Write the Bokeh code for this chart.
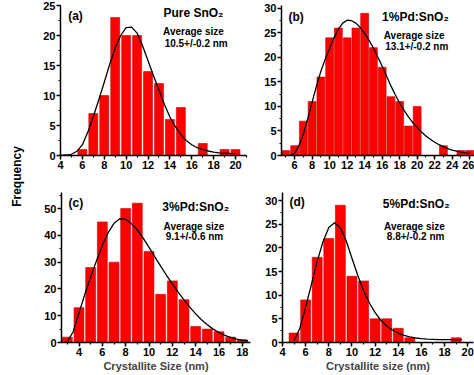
from math import pi
from bokeh.plotting import figure
from bokeh.layouts import row, column
from bokeh.models import Label, SingleIntervalTicker, Range1d, ColumnDataSource
from bokeh.embed import file_html
from bokeh.resources import INLINE

FONT = "Liberation Sans"

# ---------------- data ----------------
# (a) Pure SnO2
a_size = [6, 7, 8, 9, 10, 11, 12, 13, 14, 15, 17, 19, 20]
a_freq = [1, 7, 10, 23, 20, 20, 14, 12, 6, 8, 2, 1, 1]
a_fit_x = [4, 4.5, 5, 5.5, 6, 6.5, 7, 7.5, 8, 8.5, 9, 9.5, 10, 10.5, 11, 11.5, 12, 12.5,
           13, 13.5, 14, 14.5, 15, 15.5, 16, 16.5, 17, 17.5, 18, 18.5, 19, 19.5, 20]
a_fit_y = [0.02, 0.08, 0.2, 0.7, 1.8, 3.9, 6.5, 9.3, 12.2, 15.2, 17.9, 20.0, 21.3, 21.4, 20.4,
           18.3, 15.8, 13.3, 10.9, 8.5, 6.4, 4.8, 3.5, 2.5, 1.8, 1.3, 1.0, 0.75, 0.56, 0.45,
           0.38, 0.33, 0.3]

# (b) 1%Pd:SnO2
b_size = [5, 6, 7, 8, 9, 10, 11, 12, 13, 14, 15, 16, 17, 18, 19, 20, 23, 25, 26]
b_freq = [1, 2, 7, 11, 16, 24, 26, 24, 26, 29, 22, 18, 12, 11, 6, 10, 2, 1, 1]
b_fit_x = [5.5, 6, 6.5, 7, 7.5, 8, 8.5, 9, 9.5, 10, 10.5, 11, 11.5, 12, 12.5, 13, 13.5, 14,
           14.5, 15, 15.5, 16, 16.5, 17, 17.5, 18, 18.5, 19, 19.5, 20, 20.5, 21, 21.5, 22,
           22.5, 23, 23.5, 24, 24.5, 25, 25.5, 26]
b_fit_y = [0.05, 0.5, 2.0, 4.4, 7.5, 10.9, 14.2, 17.2, 19.7, 21.9, 24.0, 25.8, 27.0, 27.6,
           27.5, 27.0, 26.1, 24.9, 23.5, 21.9, 20.1, 18.2, 16.2, 14.2, 12.4, 10.7, 9.2, 7.9,
           6.7, 5.7, 4.8, 4.0, 3.3, 2.7, 2.2, 1.8, 1.4, 1.1, 0.9, 0.7, 0.55, 0.45]

# (c) 3%Pd:SnO2
c_size = [3, 4, 5, 6, 7, 8, 9, 10, 11, 12, 13, 14, 15, 16, 17, 18]
c_freq = [2, 13, 28, 45, 30, 50, 52, 34, 18, 23, 16, 6, 5, 4, 2, 1]
c_fit_x = [3, 3.5, 4, 4.5, 5, 5.5, 6, 6.5, 7, 7.5, 8, 8.5, 9, 9.5, 10, 10.5, 11, 11.5, 12,
           12.5, 13, 13.5, 14, 14.5, 15, 15.5, 16, 16.5, 17, 17.5, 18, 18.5]
c_fit_y = [0.3, 4.0, 11.0, 18.0, 24.5, 30.5, 36.3, 41.0, 44.5, 46.2, 46.0, 44.3, 42.0, 39.0,
           35.5, 32.0, 28.5, 25.1, 21.9, 18.8, 15.9, 13.2, 10.7, 8.5, 6.6, 5.0, 3.7, 2.7,
           1.9, 1.3, 0.9, 0.6]

# (d) 5%Pd:SnO2
d_size = [5, 6, 7, 8, 9, 10, 11, 12, 13, 14, 15, 19]
d_freq = [2, 9, 18, 22, 29, 14, 13, 5, 5, 3, 1, 1]
d_fit_x = [5, 5.5, 6, 6.5, 7, 7.5, 8, 8.5, 9, 9.5, 10, 10.5, 11, 11.5, 12, 12.5, 13, 13.5,
           14, 14.5, 15, 15.5, 16, 16.5, 17, 17.5, 18, 18.5, 19, 19.5]
d_fit_y = [0.4, 3.0, 7.5, 12.3, 17.2, 21.3, 24.3, 25.3, 24.2, 21.5, 17.8, 14.2, 11.0, 8.4,
           6.3, 4.7, 3.5, 2.6, 2.0, 1.5, 1.2, 0.95, 0.8, 0.7, 0.65, 0.62, 0.6, 0.6, 0.6, 0.6]

# ---------------- helpers ----------------
def make_panel(width, height, xr, yr, borders, xint, yint, xlabel=None):
    bl, br, bt, bb = borders
    p = figure(width=width, height=height, x_range=Range1d(*xr), y_range=Range1d(*yr),
               toolbar_location=None, output_backend="svg",
               min_border_left=bl, min_border_right=br, min_border_top=bt,
               min_border_bottom=bb)
    p.outline_line_color = None
    p.grid.visible = False
    p.xaxis.ticker = SingleIntervalTicker(interval=xint, num_minor_ticks=2)
    p.yaxis.ticker = SingleIntervalTicker(interval=yint, num_minor_ticks=2)
    for ax in (p.xaxis[0], p.yaxis[0]):
        ax.axis_line_width = 1.5
        ax.major_tick_line_width = 1.5
        ax.minor_tick_line_width = 1.2
        ax.major_tick_out = 4
        ax.major_tick_in = 0
        ax.minor_tick_out = 2
        ax.minor_tick_in = 0
        ax.major_label_text_font = FONT
        ax.major_label_text_font_style = "bold"
        ax.major_label_text_font_size = "11px"
        ax.major_label_text_color = "black"
        ax.major_label_standoff = 1
    if xlabel:
        p.xaxis.axis_label = xlabel
        p.xaxis.axis_label_text_font = FONT
        p.xaxis.axis_label_text_font_style = "bold"
        p.xaxis.axis_label_text_font_size = "11px"
        p.xaxis.axis_label_standoff = 1
    return p


def add_bars(p, xs, ys, w):
    src = ColumnDataSource(dict(x=xs, top=ys))
    p.vbar(x="x", top="top", bottom=0, width=w, source=src,
           fill_color="#FF0000", line_color="#C40000", line_width=0.6)


def add_fit(p, xs, ys):
    p.line(xs, ys, line_color="black", line_width=1.3, line_join="round")


def add_text(p, x, y, text, size, align="center"):
    p.add_layout(Label(x=x, y=y, text=text, text_font=FONT, text_font_style="bold",
                       text_font_size=size, text_align=align, text_baseline="middle",
                       text_color="black"))


# ---------------- panels ----------------
pa = make_panel(222, 178, (4, 21), (0, 25), (24, 12, 5, 23), 2, 5)
add_bars(pa, a_size, a_freq, 0.82)
add_fit(pa, a_fit_x, a_fit_y)
add_text(pa, 4.7, 23.3, "(a)", "12px", "left")
add_text(pa, 16.15, 23.8, "Pure SnO₂", "12px")
add_text(pa, 16.15, 20.7, "Average size", "10px")
add_text(pa, 16.4, 18.7, "10.5+/-0.2 nm", "10px")

pb = make_panel(216, 178, (4.5, 26.55), (0, 30.6), (23, 0, 3, 23), 2, 5)
add_bars(pb, b_size, b_freq, 0.9)
add_fit(pb, b_fit_x, b_fit_y)
add_text(pb, 5.3, 28.2, "(b)", "12px", "left")
add_text(pb, 19.8, 28.3, "1%Pd:SnO₂", "12px")
add_text(pb, 19.65, 24.5, "Average size", "10px")
add_text(pb, 19.95, 22.3, "13.1+/-0.2 nm", "10px")

pc = make_panel(222, 197, (2.5, 18.7), (0, 56), (25, 8, 14, 33), 2, 10,
                "Crystallite Size (nm)")
add_bars(pc, c_size, c_freq, 0.85)
add_fit(pc, c_fit_x, c_fit_y)
add_text(pc, 3.1, 52.1, "(c)", "12px", "left")
add_text(pc, 14.0, 50.7, "3%Pd:SnO₂", "12px")
add_text(pc, 13.85, 43.4, "Average size", "10px")
add_text(pc, 13.9, 39.7, "9.1+/-0.6 nm", "10px")

pd = make_panel(216, 197, (4, 20.5), (0, 31.7), (24, 1, 14, 33), 2, 5,
                "Crystallite size (nm)")
add_bars(pd, d_size, d_freq, 0.86)
add_fit(pd, d_fit_x, d_fit_y)
add_text(pd, 4.6, 29.7, "(d)", "12px", "left")
add_text(pd, 15.55, 29.3, "5%Pd:SnO₂", "12px")
add_text(pd, 15.4, 24.6, "Average size", "10px")
add_text(pd, 15.5, 22.4, "8.8+/-0.2 nm", "10px")

# shared y label
lab = figure(width=36, height=375, x_range=Range1d(0, 36), y_range=Range1d(0, 375),
             toolbar_location=None, output_backend="svg", x_axis_type=None,
             y_axis_type=None, min_border=0)
lab.outline_line_color = None
lab.grid.visible = False
lab.add_layout(Label(x=16, y=199, text="Frequency", angle=pi / 2, text_font=FONT,
                     text_font_style="bold", text_font_size="12px", text_align="center",
                     text_baseline="middle", text_color="black"))

layout = row(lab, column(row(pa, pb), row(pc, pd)))

open("out.html", "w").write(file_html(layout, INLINE))
